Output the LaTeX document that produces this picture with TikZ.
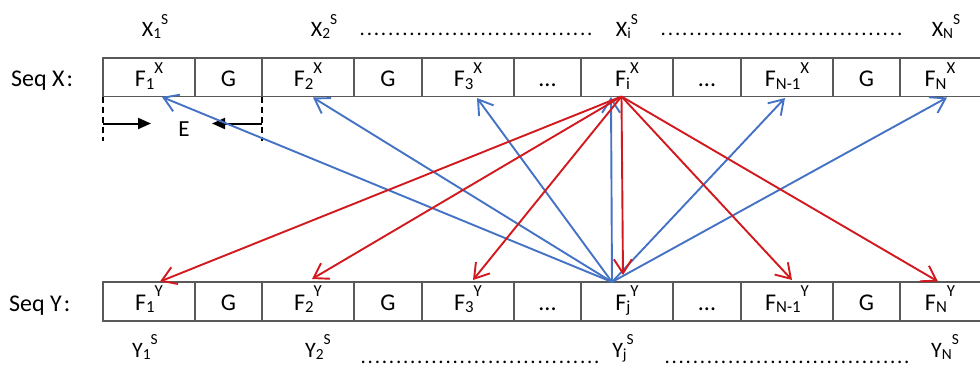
\documentclass[tikz,border=0pt]{standalone}
\usepackage{fontspec}
\setmainfont{Carlito}
\usetikzlibrary{arrows.meta}
\definecolor{cellline}{RGB}{89,89,89}
\definecolor{myblue}{RGB}{68,114,196}
\definecolor{myred}{RGB}{210,25,30}
\makeatletter
\newcommand\smallfs{\fontsize{\strip@pt\dimexpr0.70\dimexpr\f@size pt\relax\relax}{0}\selectfont}
\makeatother
\newcommand\ssp[3]{#1\raisebox{-0.10em}{\smallfs #2}\raisebox{0.56em}{\smallfs #3}}
\newcommand\dotrow[1]{\hbox to #1pt{\xleaders\hbox to 7pt{\hss.\hss}\hfill}}
\begin{document}
\begin{tikzpicture}[x=1pt,y=-1pt,
  cellbase/.style={inner sep=0pt, outer sep=0pt, anchor=north west, text depth=0pt,
    font=\fontsize{24}{27}\selectfont},
  cellx/.style={cellbase, draw=cellline, line width=1.3pt, minimum height=38.5pt, text height=19pt},
  celly/.style={cellbase, draw=cellline, line width=1.3pt, minimum height=39pt, text height=17pt},
  frame/.style={draw=cellline, line width=1.3pt},
  lbl/.style={inner sep=0pt, anchor=base, font=\fontsize{22}{25}\selectfont},
  seq/.style={inner sep=0pt, anchor=base west, font=\fontsize{24}{27}\selectfont},
  dots/.style={inner sep=0pt, anchor=base west, font=\fontsize{21}{24}\selectfont},
  bluearr/.style={draw=myblue, line width=1.9pt, -{Straight Barb[length=14pt,width=18pt]}},
  redarr/.style={draw=myred, line width=1.9pt, -{Straight Barb[length=14pt,width=18pt]}},
  earr/.style={draw=black, line width=2pt, -{Triangle[length=13pt,width=11pt]}},
  edash/.style={draw=black, line width=1.4pt, dash pattern=on 6pt off 4pt}]
\useasboundingbox (0,0) rectangle (980,367);

% row X
\node[seq] (seqx) at (11,86.7) {Seq X\kern2pt:};
\node[cellx, minimum width=92pt] (x1) at (103,58) {\ssp{F}{1}{X}};
\node[cellx, minimum width=67pt] (x2) at (195,58) {G};
\node[cellx, minimum width=92pt] (x3) at (262,58) {\ssp{F}{2}{X}};
\node[cellx, minimum width=68pt] (x4) at (354,58) {G};
\node[cellx, minimum width=92pt] (x5) at (422,58) {\ssp{F}{3}{X}};
\node[cellx, minimum width=67pt] (x6) at (514,58) {...};
\node[cellx, minimum width=92pt] (x7) at (581,58) {\ssp{F}{i}{X}};
\node[cellx, minimum width=68pt] (x8) at (673,58) {...};
\node[cellx, minimum width=92pt] (x9) at (741,58) {\ssp{F}{N-1}{X}};
\node[cellx, minimum width=67pt] (x10) at (833,58) {G};
\node[cellx, draw=none, minimum width=80pt] (x11) at (900,58) {\ssp{F}{N}{X}};
\draw[frame] (x11.north west) -- (x11.north east);
\draw[frame] (x11.south west) -- (x11.south east);

% row Y
\node[seq] (seqy) at (9,311) {Seq Y\kern2pt:};
\node[celly, minimum width=92pt] (y1) at (103,282) {\ssp{F}{1}{Y}};
\node[celly, minimum width=67pt] (y2) at (195,282) {G};
\node[celly, minimum width=92pt] (y3) at (262,282) {\ssp{F}{2}{Y}};
\node[celly, minimum width=68pt] (y4) at (354,282) {G};
\node[celly, minimum width=92pt] (y5) at (422,282) {\ssp{F}{3}{Y}};
\node[celly, minimum width=67pt] (y6) at (514,282) {...};
\node[celly, minimum width=92pt] (y7) at (581,282) {\ssp{F}{j}{Y}};
\node[celly, minimum width=68pt] (y8) at (673,282) {...};
\node[celly, minimum width=92pt] (y9) at (741,282) {\ssp{F}{N-1}{Y}};
\node[celly, minimum width=67pt] (y10) at (833,282) {G};
\node[celly, draw=none, minimum width=80pt] (y11) at (900,282) {\ssp{F}{N}{Y}};
\draw[frame] (y11.north west) -- (y11.north east);
\draw[frame] (y11.south west) -- (y11.south east);

% top labels
\node[lbl] (xs1) at (155,36.5) {\ssp{X}{1}{S}};
\node[lbl] (xs2) at (324,36.5) {\ssp{X}{2}{S}};
\node[dots] (dx1) at (358.5,35) {\dotrow{235}};
\node[lbl] (xsi) at (627,36.5) {\ssp{X}{i}{S}};
\node[dots] (dx2) at (659.5,35) {\dotrow{244}};
\node[lbl] (xsn) at (946,36.5) {\ssp{X}{N}{S}};

% bottom labels
\node[lbl] (ys1) at (145,357) {\ssp{Y}{1}{S}};
\node[lbl] (ys2) at (318,357) {\ssp{Y}{2}{S}};
\node[dots] (dy1) at (359.5,363) {\dotrow{241}};
\node[lbl] (ysj) at (623,357) {\ssp{Y}{j}{S}};
\node[dots] (dy2) at (663.5,363) {\dotrow{247}};
\node[lbl] (ysn) at (945,357) {\ssp{Y}{N}{S}};

% E annotation
\coordinate (e1t) at (x1.south west);
\coordinate (e2t) at (x2.south east);
\coordinate (e1b) at (103,141);
\coordinate (e2b) at (262,141);
\draw[edash] (e1t) -- (e1b);
\draw[edash] (e2t) -- (e2b);
\coordinate (ea1) at (103,123.5);
\coordinate (ea2) at (151,123.5);
\coordinate (eb1) at (262,123.5);
\coordinate (eb2) at (212,123.5);
\draw[earr] (ea1) -- (ea2);
\draw[earr] (eb1) -- (eb2);
\node[lbl, font=\fontsize{23}{25}\selectfont] (E) at (184,136) {E};

% connectors
\coordinate (by) at ([xshift=-15pt]y7.north);
\coordinate (rx) at ([xshift=-5.5pt]x7.south);
\draw[bluearr] (by) -- ([xshift=13pt,yshift=-0.5pt]x1.south);
\draw[bluearr] (by) -- ([xshift=5pt,yshift=-1pt]x3.south);
\draw[bluearr] (by) -- ([xshift=9pt,yshift=-1.5pt]x5.south);
\draw[bluearr] (by) -- ([xshift=-16pt,yshift=-0.5pt]x7.south);
\draw[bluearr] (by) -- ([xshift=-2pt,yshift=-1.5pt]x9.south);
\draw[bluearr] (by) -- ([xshift=7pt,yshift=-1pt]x11.south);

\draw[redarr] (rx) -- ([xshift=11pt,yshift=0.5pt]y1.north);
\draw[redarr] (rx) -- ([xshift=4pt,yshift=3pt]y3.north);
\draw[redarr] (rx) -- ([xshift=5pt,yshift=2pt]y5.north);
\draw[redarr] (rx) -- ([xshift=-4pt,yshift=7pt]y7.north);
\draw[redarr] (rx) -- ([xshift=5pt,yshift=2pt]y9.north);
\draw[redarr] (rx) -- ([xshift=-2pt,yshift=0.5pt]y11.north);
\end{tikzpicture}
\end{document}
